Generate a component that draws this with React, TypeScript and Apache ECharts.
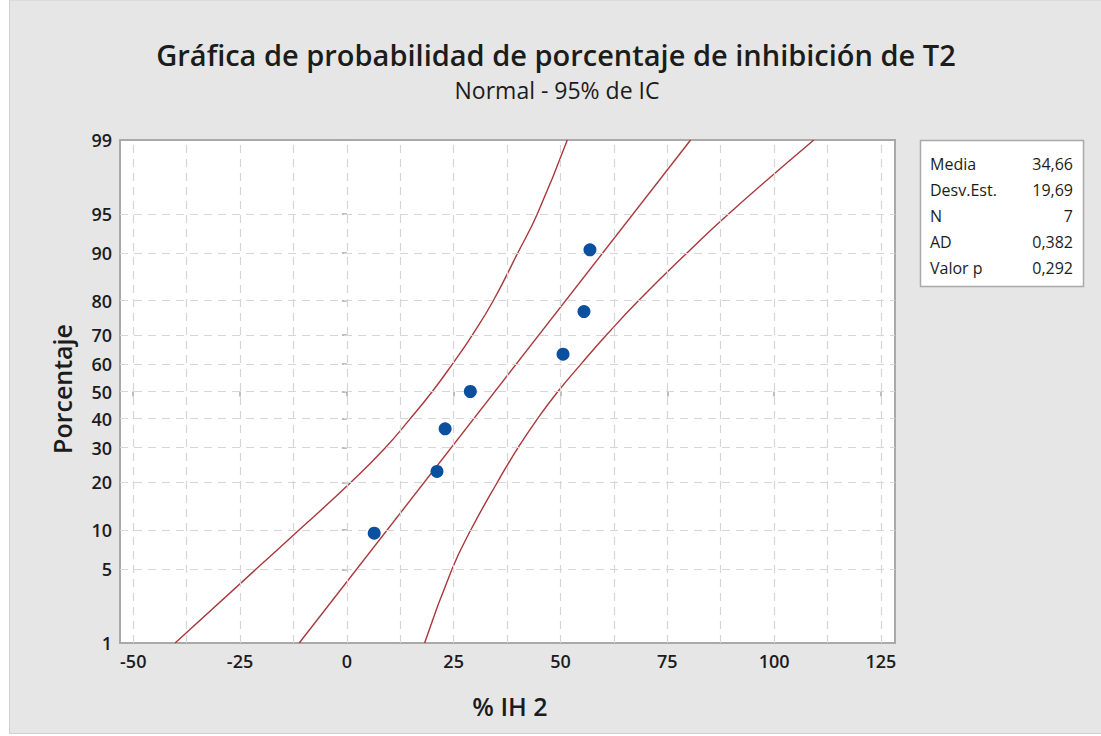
import React, { useEffect, useRef } from "react";
import * as echarts from "echarts";

// ---- data ----
const xTicks = [-50, -25, 0, 25, 50, 75, 100, 125];
const xGrid = [-50, -37.5, -25, -12.5, 0, 12.5, 25, 37.5, 50, 62.5, 75, 87.5, 100, 112.5, 125];
const yTicks = [1, 5, 10, 20, 30, 40, 50, 60, 70, 80, 90, 95, 99];
const yGrid = [5, 10, 20, 30, 40, 50, 60, 70, 80, 90, 95];

const obsX = [6.4, 21.1, 23.0, 28.9, 50.6, 55.5, 56.9];
const obsPct = [9.5, 23.0, 36.5, 50.0, 63.5, 77.0, 90.5];

const fitX = [-11.15, 80.46];
const fitPct = [1, 99];

const ciPct = [1, 5, 10, 20, 30, 40, 50, 60, 70, 80, 90, 95, 99];
const ciLowX = [-40.2, -21.3, -11.2, 0.9, 8.9, 14.8, 20.0, 24.7, 29.4, 34.3, 40.0, 44.6, 51.6];
const ciHighX = [18.2, 24.6, 29.0, 35.2, 40.0, 44.6, 49.4, 54.8, 60.8, 68.3, 79.6, 89.4, 109.3];

const statLabels = ["Media", "Desv.Est.", "N", "AD", "Valor p"];
const statValues = ["34,66", "19,69", "7", "0,382", "0,292"];

const titleText = "Gráfica de probabilidad de porcentaje de inhibición de T2";
const subtitleText = "Normal - 95% de IC";
const xName = "% IH 2";
const yName = "Porcentaje";

// inverse standard normal CDF (probability-axis transform)
function probit(p: number): number {
  const a = [-3.969683028665376e1, 2.209460984245205e2, -2.759285104469687e2, 1.38357751867269e2, -3.066479806614716e1, 2.506628277459239];
  const b = [-5.447609879822406e1, 1.615858368580409e2, -1.556989798598866e2, 6.680131188771972e1, -1.328068155288572e1];
  const c = [-7.784894002430293e-3, -3.223964580411365e-1, -2.400758277161838, -2.549732539343734, 4.374664141464968, 2.938163982698783];
  const d = [7.784695709041462e-3, 3.224671290700398e-1, 2.445134137142996, 3.754408661907416];
  const pl = 0.02425;
  if (p < pl) {
    const q = Math.sqrt(-2 * Math.log(p));
    return (((((c[0] * q + c[1]) * q + c[2]) * q + c[3]) * q + c[4]) * q + c[5]) / ((((d[0] * q + d[1]) * q + d[2]) * q + d[3]) * q + 1);
  }
  if (p > 1 - pl) {
    const q = Math.sqrt(-2 * Math.log(1 - p));
    return -(((((c[0] * q + c[1]) * q + c[2]) * q + c[3]) * q + c[4]) * q + c[5]) / ((((d[0] * q + d[1]) * q + d[2]) * q + d[3]) * q + 1);
  }
  const q = p - 0.5;
  const r = q * q;
  return ((((((a[0] * r + a[1]) * r + a[2]) * r + a[3]) * r + a[4]) * r + a[5]) * q) / (((((b[0] * r + b[1]) * r + b[2]) * r + b[3]) * r + b[4]) * r + 1);
}
const z = (pct: number) => probit(pct / 100);

const FONT = "'Open Sans', 'Noto Sans', sans-serif";
const RED = "#a8373a";
const INK = "#1c1c1c";

export default function App() {
  const ref = useRef<HTMLDivElement>(null);
  useEffect(() => {
    if (!ref.current) return;
    const chart = echarts.init(ref.current, null, { renderer: "svg" });
    const yTickZ = yTicks.map(z);
    const labelFor = (v: number) => {
      let best = 0;
      let bd = Infinity;
      yTickZ.forEach((t, i) => {
        const dd = Math.abs(t - v);
        if (dd < bd) { bd = dd; best = i; }
      });
      return String(yTicks[best]);
    };
    const gridLine = { color: "#d6d6d6", type: [8, 6] as any, width: 1.2 };
    const option: any = {
      animation: false,
      backgroundColor: "#ffffff",
      grid: {
        left: 120, top: 140, right: 206, bottom: 93,
        show: true, backgroundColor: "#ffffff", borderColor: "#a9a9a9", borderWidth: 2,
        containLabel: false,
      },
      xAxis: {
        type: "value", min: -53.1, max: 128.3,
        axisLine: { show: false },
        splitLine: { show: false },
        axisTick: { show: true, customValues: xTicks, length: 5, lineStyle: { color: "#a9a9a9", width: 1.5 } },
        axisLabel: { customValues: xTicks, color: INK, fontFamily: FONT, fontSize: 18, fontWeight: 600, margin: 9 },
      },
      yAxis: {
        type: "value", min: z(1), max: z(99),
        axisLine: { show: false },
        splitLine: { show: false },
        axisTick: { show: true, customValues: yTickZ, length: 5, lineStyle: { color: "#a9a9a9", width: 1.5 } },
        axisLabel: { customValues: yTickZ, formatter: (v: number) => labelFor(v), color: INK, fontFamily: FONT, fontSize: 18, fontWeight: 600, margin: 8 },
      },
      series: [
        {
          type: "line", data: [], silent: true, z: 1,
          markLine: {
            silent: true, symbol: "none", label: { show: false }, animation: false,
            lineStyle: gridLine,
            data: [
              ...xGrid.map((v) => ({ xAxis: v })),
              ...yGrid.map((p) => ({ yAxis: z(p) })),
            ],
          },
        },
        {
          type: "line", smooth: 0.5, symbol: "none", z: 3,
          lineStyle: { color: RED, width: 1.4 },
          data: ciLowX.map((x, i) => [x, z(ciPct[i])]),
        },
        {
          type: "line", smooth: 0.5, symbol: "none", z: 3,
          lineStyle: { color: RED, width: 1.4 },
          data: ciHighX.map((x, i) => [x, z(ciPct[i])]),
        },
        {
          type: "line", symbol: "none", z: 3,
          lineStyle: { color: RED, width: 1.4 },
          data: fitX.map((x, i) => [x, z(fitPct[i])]),
        },
        {
          type: "scatter", symbol: "circle", symbolSize: 13, z: 5,
          itemStyle: { color: "#0b4f9f", opacity: 1 },
          data: obsX.map((x, i) => [x, z(obsPct[i])]),
        },
      ],
      graphic: [
        { type: "rect", z: -10, silent: true, shape: { x: 9.5, y: 0, width: 1092, height: 733.5 }, style: { fill: "#e6e6e6", stroke: "#d0d0d0", lineWidth: 1 } },
        { type: "text", x: 556, y: 54, style: { text: titleText, font: `600 29px ${FONT}`, fill: INK, textAlign: "center", textVerticalAlign: "middle" } },
        { type: "text", x: 557, y: 90, style: { text: subtitleText, font: `500 23px ${FONT}`, fill: INK, textAlign: "center", textVerticalAlign: "middle" } },
        { type: "text", x: 510, y: 706, style: { text: xName, font: `600 25px ${FONT}`, fill: INK, textAlign: "center", textVerticalAlign: "middle" } },
        { type: "text", x: 62, y: 389, rotation: Math.PI / 2, style: { text: yName, font: `600 25px ${FONT}`, fill: INK, textAlign: "center", textVerticalAlign: "middle" } },
        { type: "rect", shape: { x: 920.5, y: 140.5, width: 163, height: 146 }, style: { fill: "#ffffff", stroke: "#a9a9a9", lineWidth: 1.5 } },
        ...statLabels.map((t, i) => ({ type: "text", x: 930, y: 164 + i * 26, style: { text: t, font: `500 16px ${FONT}`, fill: INK, textAlign: "left", textVerticalAlign: "middle" } })),
        ...statValues.map((t, i) => ({ type: "text", x: 1073, y: 164 + i * 26, style: { text: t, font: `500 16px ${FONT}`, fill: INK, textAlign: "right", textVerticalAlign: "middle" } })),
      ],
    };
    chart.setOption(option);
    return () => chart.dispose();
  }, []);
  return <div ref={ref} style={{ position: "absolute", left: 0, top: 0, width: 1101, height: 736 }} />;
}
